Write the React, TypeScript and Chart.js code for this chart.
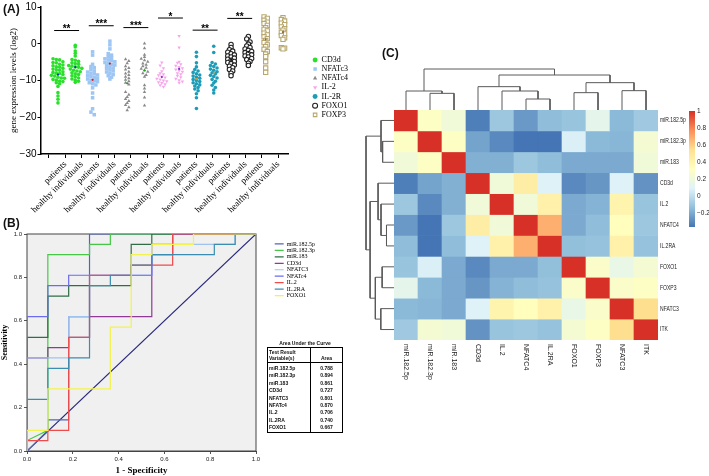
import React, { useEffect, useRef } from 'react';
import { Chart, registerables } from 'chart.js';
Chart.register(...registerables);

const SERIF = '"Liberation Serif", "Times New Roman", serif';
const SANS = '"Liberation Sans", Arial, sans-serif';

// ================= Panel A data =================
const groupLabels = ['patients', 'healthy individuals', 'patients', 'healthy individuals', 'patients', 'healthy individuals', 'patients', 'healthy individuals', 'patients', 'healthy individuals', 'patients', 'healthy individuals', 'patients', 'healthy individuals'];
const genesA = ['CD3d', 'NFATc3', 'NFATc4', 'IL-2', 'IL-2R', 'FOXO1', 'FOXP3'];
const yTicksA = [-30, -20, -10, 0, 10];

const cd3dPatients = [-4.1, -4.3, -4.4, -4.9, -5.1, -5.2, -5.6, -5.8, -6.0, -6.3, -6.4, -6.7, -6.9, -7.1, -7.2, -7.6, -7.8, -8.0, -8.1, -8.4, -8.6, -8.8, -9.1, -9.3, -9.4, -9.7, -9.9, -10.2, -10.3, -10.6, -10.9, -11.6, -13.3, -14.2, -15.1, -16.1];
const cd3dHealthy = [-0.4, -0.9, -2.0, -2.6, -3.3, -4.3, -4.5, -4.8, -5.2, -5.4, -5.6, -5.9, -6.1, -6.3, -6.4, -6.7, -6.9, -7.2, -7.4, -7.6, -7.9, -8.2, -8.4, -8.7, -9.0, -9.3, -9.6, -9.9, -10.2, -10.5];
const nfatc3Patients = [-2.2, -3.1, -5.6, -6.2, -6.5, -7.0, -7.4, -7.7, -8.0, -8.2, -8.5, -8.7, -8.9, -9.2, -9.4, -9.6, -9.9, -10.1, -10.3, -10.6, -10.9, -11.2, -12.0, -13.4, -14.7, -17.7, -18.6, -19.3];
const nfatc3Healthy = [0.7, -0.3, -1.4, -2.7, -3.1, -3.5, -3.8, -4.1, -4.4, -4.6, -4.9, -5.1, -5.3, -5.6, -5.8, -6.0, -6.3, -6.6, -6.8, -7.1, -7.4, -7.7, -8.0, -8.4, -8.7, -9.1, -9.6];
const nfatc4Patients = [-4.2, -4.7, -5.3, -6.1, -6.6, -7.0, -7.6, -8.1, -8.5, -9.0, -9.4, -9.8, -10.2, -10.6, -11.1, -13.1, -13.9, -14.5, -15.0, -15.6, -16.1, -16.7, -17.3, -18.1];
const nfatc4Healthy = [0.1, -1.2, -3.0, -3.6, -4.1, -4.5, -4.9, -5.4, -5.7, -6.1, -6.5, -6.8, -7.2, -7.6, -8.0, -8.5, -9.0, -11.3, -12.2, -13.1, -14.6, -16.8];
const il2Patients = [-5.1, -5.9, -6.7, -7.5, -8.0, -8.3, -8.6, -8.9, -9.2, -9.5, -9.7, -10.0, -10.2, -10.5, -10.7, -11.0, -11.3, -11.7];
const il2Healthy = [2.1, -1.0, -4.9, -5.2, -5.6, -6.0, -6.3, -6.7, -7.0, -7.3, -7.6, -8.0, -8.3, -8.7, -9.1, -9.5, -9.9, -10.3, -10.6];
const il2rPatients = [-2.3, -3.5, -5.2, -6.3, -7.0, -7.4, -7.8, -8.2, -8.5, -8.8, -9.1, -9.4, -9.7, -10.0, -10.3, -10.6, -10.9, -11.2, -11.5, -11.9, -12.3, -12.8, -13.6, -14.7, -17.6];
const il2rHealthy = [-0.7, -2.4, -5.1, -5.5, -5.9, -6.2, -6.6, -6.9, -7.2, -7.6, -7.9, -8.2, -8.6, -8.9, -9.3, -9.7, -10.2, -10.7, -11.3, -11.9, -12.6, -13.4];
const foxo1Patients = [-0.2, -1.0, -1.6, -2.0, -2.3, -2.7, -3.0, -3.3, -3.6, -3.9, -4.2, -4.5, -4.8, -5.1, -5.4, -5.8, -6.1, -6.5, -7.0, -7.4, -8.0, -8.7];
const foxo1Healthy = [2.0, 1.3, 0.5, -0.1, -0.6, -1.0, -1.4, -1.8, -2.1, -2.4, -2.7, -3.0, -3.3, -3.6, -4.0, -4.3, -4.8, -5.3, -5.9];
const foxp3Patients = [7.3, 6.9, 6.4, 5.9, 5.5, 5.0, 4.4, 3.9, 3.5, 2.9, 2.4, 1.9, 1.4, 0.9, 0.3, -0.3, -0.8, -1.5, -2.1, -2.8, -3.5, -4.9, -6.6, -7.8];
const foxp3Healthy = [7.1, 6.6, 6.2, 5.6, 5.2, 4.6, 4.1, 3.7, 3.1, 2.7, 2.2, 1.6, 1.2, -1.1, -1.2, -1.4];

const patientsA = [cd3dPatients, nfatc3Patients, nfatc4Patients, il2Patients, il2rPatients, foxo1Patients, foxp3Patients];
const healthyA = [cd3dHealthy, nfatc3Healthy, nfatc4Healthy, il2Healthy, il2rHealthy, foxo1Healthy, foxp3Healthy];

const sigStars = ['**', '***', '***', '*', '**', '**'];
const sigLevels = [3.6, 4.9, 4.4, 7.0, 3.7, 6.9];

// ================= Panel B data =================
const rocNames = ['miR.182.5p', 'miR.182.3p', 'miR.183', 'CD3d', 'NFATC3', 'NFATc4', 'IL.2', 'IL.2RA', 'FOXO1'];
const aucValues = [0.788, 0.894, 0.861, 0.727, 0.801, 0.870, 0.706, 0.740, 0.667];
const rocMiR1825p = [[0, 0], [0.091, 0.095], [0.091, 0.143], [0.182, 0.143], [0.182, 0.524], [0.273, 0.524], [0.273, 1], [1, 1]];
const rocMiR1823p = [[0, 0], [0, 0.048], [0.091, 0.095], [0.091, 0.905], [0.273, 0.905], [0.273, 0.952], [0.364, 0.952], [0.364, 1], [1, 1]];
const rocMiR183 = [[0, 0], [0, 0.524], [0.091, 0.524], [0.091, 0.714], [0.182, 0.714], [0.182, 0.762], [0.455, 0.762], [0.455, 0.952], [0.545, 0.952], [0.545, 1], [1, 1]];
const rocCD3d = [[0, 0], [0, 0.429], [0.091, 0.429], [0.091, 0.476], [0.182, 0.476], [0.182, 0.619], [0.545, 0.619], [0.545, 0.905], [0.636, 0.905], [0.636, 1], [1, 1]];
const rocNFATC3 = [[0, 0], [0, 0.429], [0.182, 0.429], [0.182, 0.619], [0.273, 0.619], [0.273, 0.810], [0.545, 0.810], [0.545, 0.905], [0.636, 0.905], [0.636, 0.952], [0.909, 0.952], [0.909, 1], [1, 1]];
const rocNFATc4 = [[0, 0], [0, 0.619], [0.091, 0.619], [0.091, 0.762], [0.182, 0.762], [0.182, 0.810], [0.545, 0.810], [0.545, 0.952], [0.636, 0.952], [0.636, 1], [1, 1]];
const rocIL2 = [[0, 0], [0, 0.048], [0.091, 0.048], [0.091, 0.095], [0.182, 0.095], [0.182, 0.524], [0.273, 0.524], [0.273, 0.810], [0.455, 0.810], [0.455, 0.857], [0.636, 0.857], [0.636, 1], [1, 1]];
const rocIL2RA = [[0, 0], [0, 0.238], [0.091, 0.238], [0.091, 0.381], [0.182, 0.381], [0.182, 0.429], [0.273, 0.429], [0.273, 0.762], [0.364, 0.762], [0.364, 0.810], [0.455, 0.810], [0.455, 0.857], [0.545, 0.857], [0.545, 0.905], [0.818, 0.905], [0.818, 0.952], [0.909, 0.952], [0.909, 1], [1, 1]];
const rocFOXO1 = [[0, 0], [0, 0.095], [0.091, 0.095], [0.091, 0.286], [0.364, 0.286], [0.364, 0.571], [0.455, 0.571], [0.455, 0.905], [0.545, 0.905], [0.545, 0.952], [0.727, 0.952], [0.727, 1], [1, 1]];
const rocReference = [[0, 0], [1, 1]];
const rocCurves = [rocMiR1825p, rocMiR1823p, rocMiR183, rocCD3d, rocNFATC3, rocNFATc4, rocIL2, rocIL2RA, rocFOXO1];
const rocTicks = [0, 0.2, 0.4, 0.6, 0.8, 1.0];

// ================= Panel C data =================
const heatLabels = ['miR.182.5p', 'miR.182.3p', 'miR.183', 'CD3d', 'IL.2', 'NFATC4', 'IL.2RA', 'FOXO1', 'FOXP3', 'NFATC3', 'ITK'];
const corrMiR1825p = [1, 0.30, 0.22, -0.33, -0.10, -0.25, -0.14, -0.11, 0.14, -0.15, -0.09];
const corrMiR1823p = [0.30, 1, 0.30, -0.22, -0.30, -0.36, -0.36, 0.08, -0.15, -0.16, 0.24];
const corrMiR183 = [0.22, 0.30, 1, -0.18, -0.18, -0.10, -0.14, -0.20, -0.20, -0.20, 0.22];
const corrCD3d = [-0.33, -0.22, -0.18, 1, 0.22, 0.45, 0.09, -0.30, -0.26, 0.09, -0.27];
const corrIL2 = [-0.10, -0.30, -0.18, 0.22, 1, 0.22, 0.42, -0.20, -0.17, 0.40, -0.11];
const corrNFATC4 = [-0.25, -0.36, -0.10, 0.45, 0.22, 1, 0.68, -0.20, -0.14, 0.33, -0.10];
const corrIL2RA = [-0.14, -0.36, -0.14, 0.09, 0.42, 0.68, 1, -0.13, -0.12, 0.42, -0.12];
const corrFOXO1 = [-0.11, 0.08, -0.20, -0.30, -0.20, -0.20, -0.13, 1, 0.28, 0.16, 0.24];
const corrFOXP3 = [0.14, -0.15, -0.20, -0.26, -0.17, -0.14, -0.12, 0.28, 1, 0.28, 0.30];
const corrNFATC3 = [-0.15, -0.16, -0.20, 0.09, 0.40, 0.33, 0.42, 0.16, 0.28, 1, 0.55];
const corrITK = [-0.09, 0.24, 0.22, -0.27, -0.11, -0.10, -0.12, 0.24, 0.30, 0.55, 1];
const heatMatrix = [corrMiR1825p, corrMiR1823p, corrMiR183, corrCD3d, corrIL2, corrNFATC4, corrIL2RA, corrFOXO1, corrFOXP3, corrNFATC3, corrITK];
const colorbarTicks = [-0.2, 0, 0.2, 0.4, 0.6, 0.8, 1];
// hierarchical clustering merges: [childA, childB, height]; leaves 0..10, merged nodes 11..20
const dendroMerges = [[1, 2, 50], [0, 11, 57], [5, 6, 33], [4, 13, 57], [3, 14, 70], [7, 8, 52], [9, 10, 58], [16, 17, 82], [15, 18, 105], [12, 19, 123]];

// ================= helpers =================
const heatPalette = ['#4575B4', '#91BFDB', '#E0F3F8', '#FFFFBF', '#FEE090', '#FC8D59', '#D73027'];
const allCorr = heatMatrix.flat();
const cbMin = Math.min(...allCorr);
const cbMax = Math.max(...allCorr);

function hexRgb(h: string) {
  return [parseInt(h.slice(1, 3), 16), parseInt(h.slice(3, 5), 16), parseInt(h.slice(5, 7), 16)];
}
function heatColor(v: number) {
  let t = (v - cbMin) / (cbMax - cbMin);
  t = Math.max(0, Math.min(1, t));
  const p = t * (heatPalette.length - 1);
  const i = Math.min(Math.floor(p), heatPalette.length - 2);
  const f = p - i;
  const a = hexRgb(heatPalette[i]);
  const b = hexRgb(heatPalette[i + 1]);
  const c = a.map((av, k) => Math.round(av + (b[k] - av) * f));
  return `rgb(${c[0]},${c[1]},${c[2]})`;
}

function swarm(values: number[], center: number) {
  const bin = 0.9;
  const step = 0.19;
  const sorted = [...values].sort((a, b) => b - a);
  const groups = new Map<number, number[]>();
  sorted.forEach((v) => {
    const k = Math.round(v / bin);
    if (!groups.has(k)) groups.set(k, []);
    groups.get(k)!.push(v);
  });
  const pts: any[] = [];
  groups.forEach((arr) => arr.forEach((v, i) => pts.push({ x: center + (i - (arr.length - 1) / 2) * step, y: v })));
  return pts;
}
const mean = (a: number[]) => a.reduce((s, v) => s + v, 0) / a.length;
const minus = (s: string) => s.replace('-', '\u2212');

// ================= configs =================
const stylesA = [
  { shape: 'circle', r: 1.8, fill: '#2be02b', stroke: '#2be02b', bw: 0, rot: 0 },
  { shape: 'rect', r: 2.5, fill: '#9ec6f4', stroke: '#9ec6f4', bw: 0, rot: 0 },
  { shape: 'triangle', r: 2.0, fill: '#8a8a8a', stroke: '#8a8a8a', bw: 0, rot: 0 },
  { shape: 'triangle', r: 2.0, fill: '#f7a6ea', stroke: '#f7a6ea', bw: 0, rot: 180 },
  { shape: 'circle', r: 1.8, fill: '#1d9cb8', stroke: '#1d9cb8', bw: 0, rot: 0 },
  { shape: 'circle', r: 2.2, fill: '#ffffff', stroke: '#222222', bw: 1.1, rot: 0 },
  { shape: 'rect', r: 3.0, fill: '#ffffff', stroke: '#b9a86d', bw: 1.1, rot: 0 },
];
const meanColorsA = ['#1a2ad0', '#d02020', '#20a020', '#7a30d0', '#e09020', '#111111', '#8a7040'];
// category-axis tick marks of the original graph sit on a slightly different pitch than the columns
const tickStartA = -0.52;
const tickPitchA = 0.946;

function configA(): any {
  const pointSets = genesA.map((g, gi) => {
    const st = stylesA[gi];
    return {
      label: g,
      data: [...swarm(patientsA[gi], 2 * gi), ...swarm(healthyA[gi], 2 * gi + 1)],
      pointStyle: st.shape, pointRadius: st.r, pointRotation: st.rot,
      backgroundColor: st.fill, borderColor: st.stroke, borderWidth: st.bw,
    };
  });
  const sigSets = sigLevels.map((lv, i) => ({
    label: 'sig' + i,
    data: [{ x: 2 * i - 0.22, y: lv }, { x: 2 * i + 1.22, y: lv }],
    showLine: true, borderColor: '#000', borderWidth: 1, pointRadius: 0,
  }));
  const meanData: any[] = [];
  const meanCols: string[] = [];
  genesA.forEach((g, gi) => {
    meanData.push({ x: 2 * gi, y: mean(patientsA[gi]) });
    meanData.push({ x: 2 * gi + 1, y: mean(healthyA[gi]) });
    meanCols.push(meanColorsA[gi], meanColorsA[gi]);
  });
  const meanSet = { label: 'mean', data: meanData, pointRadius: 1.1, backgroundColor: meanCols, borderWidth: 0, order: -1 };

  return {
    type: 'scatter',
    data: { datasets: [...pointSets, ...sigSets, meanSet] },
    plugins: [{
      id: 'stars',
      afterDatasetsDraw(chart: any) {
        const { ctx, scales } = chart;
        ctx.save();
        ctx.font = `bold 10px ${SANS}`;
        ctx.fillStyle = '#000';
        ctx.textAlign = 'center';
        ctx.textBaseline = 'alphabetic';
        sigStars.forEach((s, i) => {
          ctx.fillText(s, scales.x.getPixelForValue(2 * i + 0.5), scales.y.getPixelForValue(sigLevels[i]) + 1.5);
        });
        ctx.restore();
      },
    }],
    options: {
      animation: false, responsive: false, events: [],
      layout: { padding: { top: 5, left: 0, right: 0, bottom: 0 } },
      plugins: {
        tooltip: { enabled: false },
        legend: {
          position: 'right', align: 'start',
          title: { display: true, text: ' ', font: { size: 1 }, padding: { top: 48.6, bottom: 0 } },
          labels: {
            usePointStyle: true, boxWidth: 5, boxHeight: 3.5, padding: 1.15,
            font: { family: SERIF, size: 8 }, color: '#000',
            filter: (it: any) => it.datasetIndex < genesA.length,
          },
        },
      },
      scales: {
        x: {
          type: 'linear', min: -0.98, max: 13.29,
          afterBuildTicks: (s: any) => { s.ticks = [0, ...groupLabels.map((_, i) => i + 1)].map((k) => ({ value: tickStartA + tickPitchA * k })); },
          ticks: { autoSkip: false, minRotation: 45, maxRotation: 45, padding: 1, color: '#000', font: { family: SERIF, size: 9 }, callback: (v: any, i: number) => (i === 0 ? '' : groupLabels[i - 1]) },
          grid: { drawOnChartArea: false, tickLength: 4, color: '#000' },
          border: { color: '#000', width: 1.5 },
          afterFit: (s: any) => { s.height = 61; },
        },
        y: {
          min: -30, max: 10,
          afterBuildTicks: (s: any) => { s.ticks = yTicksA.map((v) => ({ value: v })); },
          ticks: { padding: 1, color: '#000', font: { family: SANS, size: 10 }, callback: (v: any) => minus(String(v)) },
          grid: { drawOnChartArea: false, tickLength: 3.5, color: '#000' },
          border: { color: '#000', width: 1.5 },
          title: { display: true, text: 'gene expression levels (log2)', color: '#000', font: { family: SERIF, size: 9 }, padding: { top: 8.6, bottom: 0 } },
          afterFit: (s: any) => { s.width = 41; },
        },
        gap: {
          type: 'linear', position: 'right', display: true,
          ticks: { display: false }, grid: { display: false, drawTicks: false }, border: { display: false },
          afterFit: (s: any) => { const lw = s.chart.legend ? s.chart.legend.width : 0; s.width = Math.max(0, s.chart.width - lw - 288); },
        },
      },
    },
  };
}

const rocColors = ['#4f66b8', '#46c846', '#2f6d45', '#8e3a96', '#9dc4ee', '#6a6af2', '#f04a4a', '#3a8db0', '#f2f250'];

function configB(): any {
  const sets: any[] = rocCurves.map((c, i) => ({
    label: rocNames[i],
    data: c.map(([x, y]) => ({ x, y })),
    showLine: true, borderColor: rocColors[i], backgroundColor: rocColors[i], borderWidth: 1.2,
    pointRadius: 0, pointStyle: 'line', order: rocCurves.length - i,
  }));
  sets.push({
    label: 'ref', data: rocReference.map(([x, y]) => ({ x, y })), showLine: true,
    borderColor: '#26267a', borderWidth: 1.2, pointRadius: 0, order: 20,
  });
  return {
    type: 'scatter',
    data: { datasets: sets },
    plugins: [{
      id: 'bg',
      beforeDatasetsDraw(chart: any) {
        const { ctx, chartArea: a } = chart;
        ctx.save();
        ctx.fillStyle = '#f0f0f0';
        ctx.fillRect(a.left, a.top, a.width, a.height);
        ctx.strokeStyle = '#444';
        ctx.lineWidth = 1;
        ctx.strokeRect(a.left, a.top, a.width, a.height);
        ctx.restore();
      },
    }],
    options: {
      animation: false, responsive: false, events: [],
      layout: { padding: { top: 8, left: 0, right: 0, bottom: 0 } },
      plugins: {
        tooltip: { enabled: false },
        legend: {
          position: 'right', align: 'start',
          title: { display: true, text: ' ', font: { size: 1 }, padding: { top: 5.3, bottom: 0 } },
          labels: {
            usePointStyle: true, pointStyleWidth: 9, boxHeight: 6, padding: 0.45,
            font: { family: SERIF, size: 6 }, color: '#000',
            filter: (it: any) => it.datasetIndex < rocNames.length,
            sort: (a: any, b: any) => a.datasetIndex - b.datasetIndex,
          },
        },
      },
      scales: {
        x: {
          type: 'linear', min: 0, max: 1,
          afterBuildTicks: (s: any) => { s.ticks = rocTicks.map((v) => ({ value: v })); },
          ticks: { padding: 2, color: '#222', font: { family: SANS, size: 6 }, callback: (v: any) => Number(v).toFixed(1) },
          grid: { drawOnChartArea: false, tickLength: 3, color: '#555' },
          border: { color: '#444' },
          title: { display: true, text: '1 - Specificity', color: '#000', font: { family: SERIF, size: 9, weight: 'bold' }, padding: { top: 0, bottom: 0 } },
          afterFit: (s: any) => { s.height = 25; },
        },
        y: {
          min: 0, max: 1,
          afterBuildTicks: (s: any) => { s.ticks = rocTicks.map((v) => ({ value: v })); },
          ticks: { padding: 2, color: '#222', font: { family: SANS, size: 6 }, callback: (v: any) => Number(v).toFixed(1) },
          grid: { drawOnChartArea: false, tickLength: 3, color: '#555' },
          border: { color: '#444' },
          title: { display: true, text: 'Sensitivity', color: '#000', font: { family: SERIF, size: 8, weight: 'bold' }, padding: { top: 0, bottom: 0 } },
          afterFit: (s: any) => { s.width = 27; },
        },
        gap: {
          type: 'linear', position: 'right', display: true,
          ticks: { display: false }, grid: { display: false, drawTicks: false }, border: { display: false },
          afterFit: (s: any) => { const lw = s.chart.legend ? s.chart.legend.width : 0; s.width = Math.max(0, s.chart.width - lw - 256); },
        },
      },
    },
  };
}

// heat-map axis labels
const ROW_LABEL_FONT = `6.8px ${SANS}`;
const ROW_LABEL_SQUEEZE = 0.74;
const COL_LABEL_FONT = `7px ${SANS}`;

function configHeat(): any {
  return {
    type: 'bar',
    data: {
      labels: heatLabels,
      datasets: heatMatrix.map((row, r) => ({
        label: heatLabels[r],
        data: heatLabels.map(() => 1),
        backgroundColor: row.map((v) => heatColor(v)),
        borderWidth: 0, barPercentage: 1, categoryPercentage: 1, stack: 's',
      })),
    },
    plugins: [{
      id: 'axisLabels',
      afterDraw(chart: any) {
        const { ctx, chartArea, scales } = chart;
        ctx.save();
        ctx.fillStyle = '#222';
        ctx.textAlign = 'left';
        ctx.textBaseline = 'middle';
        heatLabels.forEach((l, i) => {
          // column labels (reading downwards)
          ctx.save();
          ctx.font = COL_LABEL_FONT;
          ctx.translate(scales.x.getPixelForValue(i), chartArea.bottom + 4);
          ctx.rotate(Math.PI / 2);
          ctx.fillText(l, 0, 0);
          ctx.restore();
          // row labels (right side, narrow)
          ctx.save();
          ctx.font = ROW_LABEL_FONT;
          ctx.translate(chartArea.right + 2, scales.y.getPixelForValue(i + 0.5));
          ctx.scale(ROW_LABEL_SQUEEZE, 1);
          ctx.fillText(l, 0, 0);
          ctx.restore();
        });
        ctx.restore();
      },
    }],
    options: {
      animation: false, responsive: false, events: [],
      layout: { padding: 0 },
      plugins: { legend: { display: false }, tooltip: { enabled: false } },
      scales: {
        x: {
          stacked: true, grid: { display: false, drawTicks: false }, border: { display: false }, ticks: { display: false },
          afterFit: (s: any) => { s.height = 45; },
        },
        y: {
          stacked: true, position: 'right', reverse: true, min: 0, max: heatLabels.length,
          ticks: { display: false },
          grid: { display: false, drawTicks: false }, border: { display: false },
          afterFit: (s: any) => { s.width = s.chart.width - 264; },
        },
      },
    },
  };
}

function configColorbar(): any {
  return {
    type: 'bar',
    data: {
      labels: [''],
      datasets: [{
        data: [[cbMin, cbMax]],
        borderWidth: 0, barPercentage: 1, categoryPercentage: 1,
        backgroundColor: (c: any) => {
          const chart = c.chart;
          const y = chart.scales && chart.scales.y;
          if (!y) return heatPalette[3];
          const y0 = y.getPixelForValue(cbMin);
          const y1 = y.getPixelForValue(cbMax);
          if (!isFinite(y0) || !isFinite(y1) || y0 === y1) return heatPalette[3];
          const g = chart.ctx.createLinearGradient(0, y0, 0, y1);
          heatPalette.forEach((col, i) => g.addColorStop(i / (heatPalette.length - 1), col));
          return g;
        },
      }],
    },
    options: {
      animation: false, responsive: false, events: [],
      layout: { padding: { left: 3, top: 6, bottom: 5, right: 0 } },
      plugins: { legend: { display: false }, tooltip: { enabled: false } },
      scales: {
        x: { display: false },
        y: {
          position: 'right', min: cbMin, max: cbMax,
          afterBuildTicks: (s: any) => { s.ticks = colorbarTicks.map((v) => ({ value: v })); },
          ticks: { padding: 2, color: '#222', font: { family: SANS, size: 6.5 }, callback: (v: any) => minus(String(Number(Number(v).toFixed(1)))) },
          grid: { display: false, drawTicks: false }, border: { display: false },
          afterFit: (s: any) => { s.width = 14; },
        },
      },
    },
  };
}

function dendroSegments(vertical: boolean) {
  const pos: number[] = heatLabels.map((_, i) => i);
  const hgt: number[] = heatLabels.map(() => 0);
  return dendroMerges.map(([a, b, h]) => {
    const pts = [[pos[a], hgt[a]], [pos[a], h], [pos[b], h], [pos[b], hgt[b]]];
    pos.push((pos[a] + pos[b]) / 2);
    hgt.push(h);
    return {
      data: pts.map(([p, hh]) => (vertical ? { x: hh, y: p } : { x: p, y: hh })),
      showLine: true, borderColor: '#5a5a5a', borderWidth: 1, pointRadius: 0, clip: false,
    };
  });
}

function configDendroTop(): any {
  return {
    type: 'scatter',
    data: { datasets: dendroSegments(false) },
    options: {
      animation: false, responsive: false, events: [], layout: { padding: 0 },
      plugins: { legend: { display: false }, tooltip: { enabled: false } },
      scales: { x: { display: false, min: -0.5, max: heatLabels.length - 0.5 }, y: { display: false, min: -3, max: 132 } },
    },
  };
}
function configDendroLeft(): any {
  return {
    type: 'scatter',
    data: { datasets: dendroSegments(true) },
    options: {
      animation: false, responsive: false, events: [], layout: { padding: 0 },
      plugins: { legend: { display: false }, tooltip: { enabled: false } },
      scales: { x: { display: false, reverse: true, min: -4.39, max: 140.6 }, y: { display: false, reverse: true, min: -0.5, max: heatLabels.length - 0.5 } },
    },
  };
}

function ChartBox({ make, left, top, width, height }: any) {
  const ref = useRef<HTMLCanvasElement>(null);
  useEffect(() => {
    let chart: any = null;
    try {
      chart = new Chart(ref.current as HTMLCanvasElement, make());
    } catch (e) {
      console.error(e);
    }
    return () => { if (chart) chart.destroy(); };
  }, []);
  return <canvas ref={ref} width={width} height={height} style={{ position: 'absolute', left, top, width, height }} />;
}

const panelLabel = (t: string, left: number, top: number) => (
  <div style={{ position: 'absolute', left, top, fontFamily: SANS, fontWeight: 'bold', fontSize: 12, lineHeight: '12px', color: '#111' }}>{t}</div>
);

function AucTable() {
  const cell: any = { padding: '0 1px', lineHeight: '7.4px', height: 7.4, whiteSpace: 'nowrap' };
  return (
    <div style={{ position: 'absolute', left: 267, top: 340, width: 76, fontFamily: SANS, fontSize: 5, fontWeight: 'bold', color: '#111' }}>
      <div style={{ textAlign: 'center', height: 7, lineHeight: '7px' }}>Area Under the Curve</div>
      <table style={{ borderCollapse: 'collapse', width: 76, border: '1.5px solid #000', tableLayout: 'fixed' }}>
        <tbody>
          <tr style={{ height: 15 }}>
            <td style={{ width: 40, borderRight: '1px solid #000', borderBottom: '1px solid #000', verticalAlign: 'top', lineHeight: '6px', padding: '1px 1px' }}>Test Result<br />Variable(s)</td>
            <td style={{ borderBottom: '1px solid #000', verticalAlign: 'bottom', textAlign: 'center', lineHeight: '6px', padding: '1px' }}>Area</td>
          </tr>
          {rocNames.map((n, i) => (
            <tr key={n}>
              <td style={{ ...cell, borderRight: '1px solid #000', paddingTop: i === 0 ? 2 : 0 }}>{n}</td>
              <td style={{ ...cell, textAlign: 'center', paddingTop: i === 0 ? 2 : 0 }}>{aucValues[i].toFixed(3)}</td>
            </tr>
          ))}
        </tbody>
      </table>
    </div>
  );
}

export default function App() {
  return (
    <div style={{ position: 'absolute', left: 0, top: 0, width: 709, height: 476, background: '#fff', overflow: 'hidden' }}>
      <ChartBox make={configA} left={0} top={0} width={358} height={215} />
      <ChartBox make={configB} left={0} top={226} width={325} height={250} />
      <AucTable />
      <ChartBox make={configDendroTop} left={394} top={66} width={264} height={45} />
      <ChartBox make={configDendroLeft} left={362} top={110} width={33} height={230} />
      <ChartBox make={configHeat} left={394} top={110} width={300} height={275} />
      <ChartBox make={configColorbar} left={686} top={105} width={23} height={128} />
      {panelLabel('(A)', 3, 3)}
      {panelLabel('(B)', 3, 217)}
      {panelLabel('(C)', 382, 47)}
    </div>
  );
}
